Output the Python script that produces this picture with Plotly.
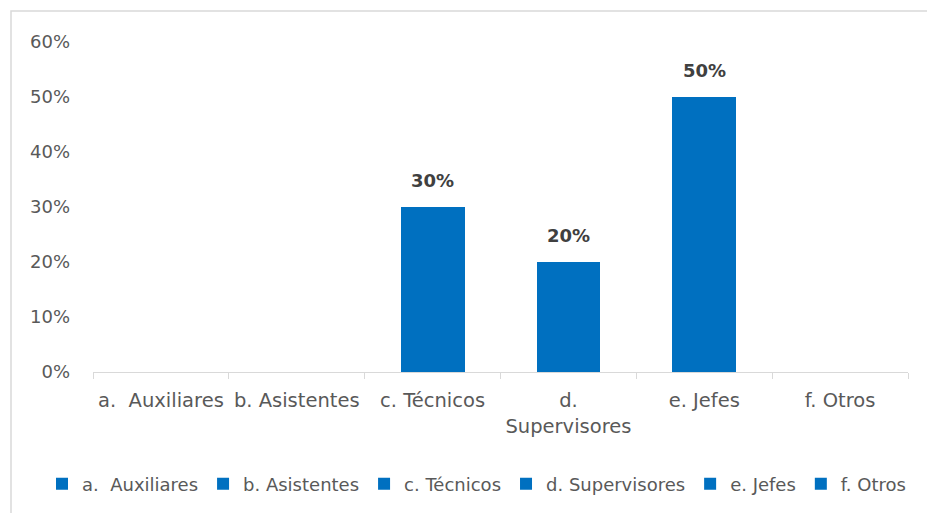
import plotly.graph_objects as go

categories = ["a.\u00a0 Auxiliares", "b. Asistentes", "c. Técnicos", "d. Supervisores", "e. Jefes", "f. Otros"]
tick_labels = ["a.\u00a0 Auxiliares", "b. Asistentes", "c. Técnicos", "d.<br>Supervisores", "e. Jefes", "f. Otros"]
values = [0.0, 0.0, 0.30, 0.20, 0.50, 0.0]
y_ticks = [0, 0.1, 0.2, 0.3, 0.4, 0.5, 0.6]
y_tick_labels = ["0%", "10%", "20%", "30%", "40%", "50%", "60%"]

BLUE = "#0070C0"
FONT = "DejaVu Sans"
W, H = 927, 513
L, R, T, B = 93, 19, 42, 141
pw, ph = W - L - R, H - T - B

fig = go.Figure()
for i, (c, v) in enumerate(zip(categories, values)):
    fig.add_trace(go.Bar(
        x=[tick_labels[i]], y=[v], name=c,
        marker=dict(color=BLUE, line=dict(width=0)),
        hoverinfo="skip",
    ))
    if v > 0:
        fig.add_annotation(x=tick_labels[i], y=v, text=f"<b>{round(v*100)}%</b>",
                           showarrow=False, yanchor="bottom", yshift=14,
                           font=dict(family=FONT, size=18, color="#404040"))

def px_x(p):
    return (p - L) / pw

def px_y(p):
    return (H - B - p) / ph

fig.add_shape(type="rect", xref="paper", yref="paper",
              x0=px_x(11), x1=px_x(935), y0=px_y(525), y1=px_y(11),
              line=dict(color="#D9D9D9", width=1.5), fillcolor="rgba(0,0,0,0)", layer="below")

fig.update_layout(
    width=W, height=H,
    margin=dict(l=L, r=R, t=T, b=B, autoexpand=False),
    paper_bgcolor="white", plot_bgcolor="white",
    barmode="stack", bargap=0.53,
    font=dict(family=FONT, size=18, color="#595959"),
    showlegend=True,
    legend=dict(orientation="h", x=px_x(42), xanchor="left", y=px_y(484), yanchor="middle",
                font=dict(family=FONT, size=18, color="#595959"), traceorder="normal",
                itemwidth=30, tracegroupgap=0),
    xaxis=dict(categoryorder="array", categoryarray=tick_labels,
               showline=True, linecolor="#D9D9D9", linewidth=1,
               ticks="outside", tickson="boundaries", ticklen=6, tickcolor="#D9D9D9",
               ticklabelstandoff=11,
               showgrid=False, tickfont=dict(family=FONT, size=19.5, color="#595959")),
    yaxis=dict(range=[0, 0.6], tickvals=y_ticks, ticktext=y_tick_labels,
               showgrid=False, zeroline=False, showline=False, ticks="",
               ticklabelstandoff=22,
               tickfont=dict(family=FONT, size=18, color="#595959")),
)

fig.write_html("out.html", config={"displayModeBar": False},
               post_script="document.body.style.margin='0';")
